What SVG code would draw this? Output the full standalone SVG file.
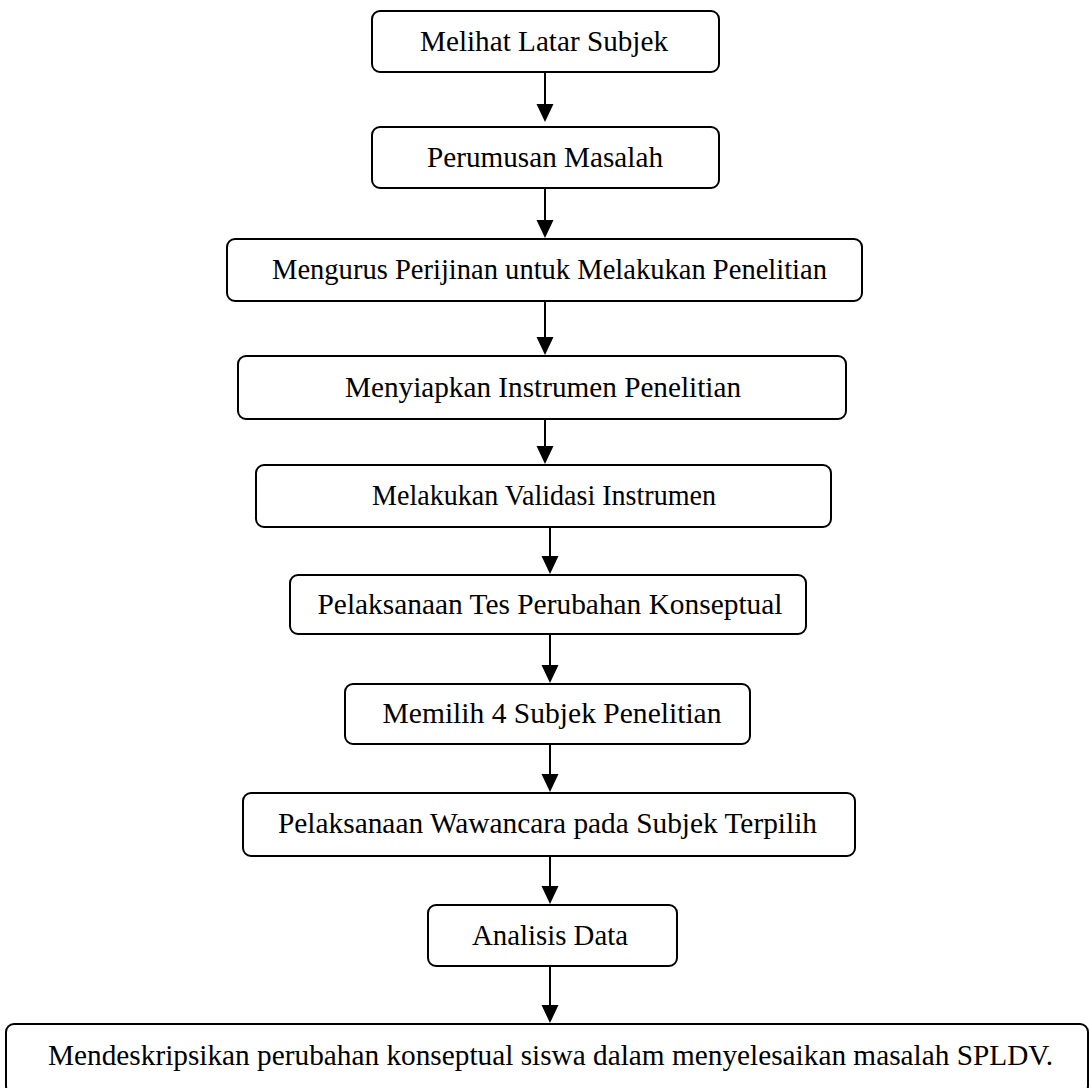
<svg xmlns="http://www.w3.org/2000/svg" width="1091" height="1088" viewBox="0 0 1091 1088">
<style>
.b{fill:#fff;stroke:#000;stroke-width:2}
.t{font-family:"Liberation Serif","Times New Roman",serif;font-size:29px;fill:#000;text-anchor:middle}
.c{stroke:#000;stroke-width:2;fill:none}
.h{fill:#000;stroke:none}
</style>
<rect width="1091" height="1088" fill="#fff"/>
<g id="connectors">
<path class="c" d="M545,72 V110"/><polygon class="h" points="536.5,104 553.5,104 545,122"/>
<path class="c" d="M545,188 V226"/><polygon class="h" points="536.5,220 553.5,220 545,238"/>
<path class="c" d="M545,301 V343"/><polygon class="h" points="536.5,337 553.5,337 545,355"/>
<path class="c" d="M545,419 V452"/><polygon class="h" points="536.5,446 553.5,446 545,464"/>
<path class="c" d="M550,527 V562"/><polygon class="h" points="541.5,556 558.5,556 550,574"/>
<path class="c" d="M550,634 V671"/><polygon class="h" points="541.5,665 558.5,665 550,683"/>
<path class="c" d="M550,744 V780"/><polygon class="h" points="541.5,774 558.5,774 550,792"/>
<path class="c" d="M550,856 V892"/><polygon class="h" points="541.5,886 558.5,886 550,904"/>
<path class="c" d="M550,966 V1011"/><polygon class="h" points="541.5,1005 558.5,1005 550,1023"/>
</g>
<g id="n1"><rect class="b" x="372" y="11" width="347" height="61" rx="8"/><text class="t" x="544" y="51" textLength="248" lengthAdjust="spacingAndGlyphs">Melihat Latar Subjek</text></g>
<g id="n2"><rect class="b" x="372" y="127" width="347" height="61" rx="8"/><text class="t" x="545" y="167" textLength="236" lengthAdjust="spacingAndGlyphs">Perumusan Masalah</text></g>
<g id="n3"><rect class="b" x="227" y="239" width="635" height="62" rx="8"/><text class="t" x="549.5" y="279" textLength="555" lengthAdjust="spacingAndGlyphs">Mengurus Perijinan untuk Melakukan Penelitian</text></g>
<g id="n4"><rect class="b" x="238" y="356" width="608" height="63" rx="8"/><text class="t" x="543" y="397" textLength="396" lengthAdjust="spacingAndGlyphs">Menyiapkan Instrumen Penelitian</text></g>
<g id="n5"><rect class="b" x="256" y="465" width="575" height="62" rx="8"/><text class="t" x="544" y="505" textLength="344" lengthAdjust="spacingAndGlyphs">Melakukan Validasi Instrumen</text></g>
<g id="n6"><rect class="b" x="290" y="575" width="516" height="59" rx="8"/><text class="t" x="550" y="614" textLength="465" lengthAdjust="spacingAndGlyphs">Pelaksanaan Tes Perubahan Konseptual</text></g>
<g id="n7"><rect class="b" x="345" y="684" width="405" height="60" rx="8"/><text class="t" x="552" y="723" textLength="339" lengthAdjust="spacingAndGlyphs">Memilih 4 Subjek Penelitian</text></g>
<g id="n8"><rect class="b" x="243" y="793" width="612" height="63" rx="8"/><text class="t" x="547.5" y="833" textLength="539" lengthAdjust="spacingAndGlyphs">Pelaksanaan Wawancara pada Subjek Terpilih</text></g>
<g id="n9"><rect class="b" x="428" y="905" width="249" height="61" rx="8"/><text class="t" x="550" y="945" textLength="156" lengthAdjust="spacingAndGlyphs">Analisis Data</text></g>
<g id="n10"><rect class="b" x="6" y="1024" width="1082" height="70" rx="8"/><text class="t" x="550.5" y="1065" textLength="1005" lengthAdjust="spacingAndGlyphs">Mendeskripsikan perubahan konseptual siswa dalam menyelesaikan masalah SPLDV.</text></g>
</svg>
